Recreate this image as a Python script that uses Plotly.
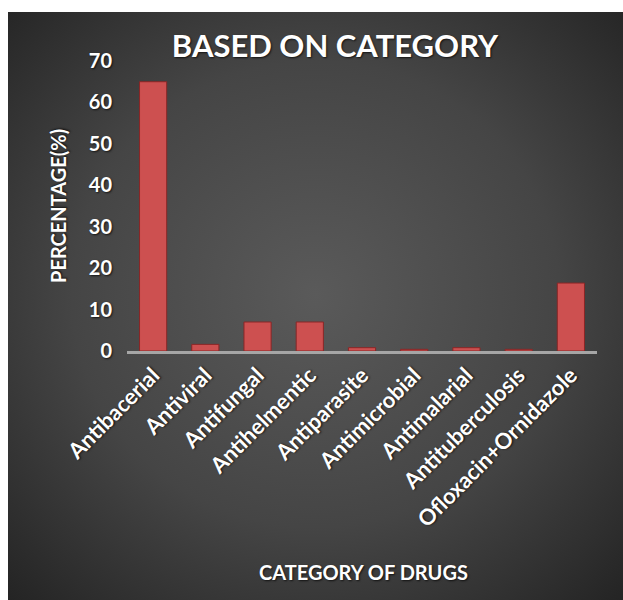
import plotly.graph_objects as go
import base64

categories = ["Antibacerial", "Antiviral", "Antifungal", "Antihelmentic", "Antiparasite",
              "Antimicrobial", "Antimalarial", "Antituberculosis", "Ofloxacin+Ornidazole"]
percentages = [65.0, 1.6, 7.0, 7.0, 0.8, 0.4, 0.8, 0.4, 16.4]
y_ticks = [0, 10, 20, 30, 40, 50, 60, 70]

FONT = "Lato"
shadow = "1px 1px 2px rgba(0,0,0,0.7)"

svg = ('<svg xmlns="http://www.w3.org/2000/svg" width="615" height="588" viewBox="0 0 615 588" preserveAspectRatio="none">'
       '<defs><radialGradient id="g" cx="50%" cy="48%" r="72%">'
       '<stop offset="0" stop-color="#5a5a5a"/><stop offset="0.55" stop-color="#454545"/>'
       '<stop offset="1" stop-color="#242424"/></radialGradient></defs>'
       '<rect width="615" height="588" fill="url(#g)"/></svg>')
src = "data:image/svg+xml;base64," + base64.b64encode(svg.encode()).decode()

L, R, T, B = 127, 26, 61, 249
W, H = 623, 600
pw, ph = W - L - R, H - T - B

def px_x(p):
    return (p - L) / pw

def px_y(p):
    return (H - B - p) / ph

fig = go.Figure()
fig.add_trace(go.Bar(
    x=categories, y=percentages, width=0.52,
    marker=dict(color="#cd5050", line=dict(color="#8a2626", width=1)),
))

fig.update_layout(
    width=W, height=H,
    margin=dict(l=L, r=R, t=T, b=B, pad=0),
    paper_bgcolor="white",
    plot_bgcolor="rgba(0,0,0,0)",
    showlegend=False,
    title=dict(text="<b>BASED ON CATEGORY</b>", x=335 / W, xanchor="center",
               y=1 - 46 / H, yanchor="middle",
               font=dict(family=FONT, size=31, color="white", shadow=shadow)),
    images=[dict(source=src, xref="paper", yref="paper",
                 x=px_x(8), y=px_y(12), sizex=px_x(623) - px_x(8), sizey=px_y(12) - px_y(600),
                 xanchor="left", yanchor="top", sizing="stretch", layer="below")],
    annotations=[
        dict(text="<b>CATEGORY OF DRUGS</b>", xref="paper", yref="paper",
             x=px_x(363), y=px_y(572), showarrow=False, xanchor="center", yanchor="middle",
             font=dict(family=FONT, size=20, color="white", shadow=shadow)),
        dict(text="<b>PERCENTAGE(%)</b>", xref="paper", yref="paper",
             x=px_x(58), y=px_y(206), showarrow=False, xanchor="center", yanchor="middle",
             textangle=-90,
             font=dict(family=FONT, size=20, color="white", shadow=shadow)),
    ],
)
fig.update_xaxes(
    showline=True, linecolor="#a6a6a6", linewidth=2.5, showgrid=False, ticks="",
    tickangle=-45, tickfont=dict(family=FONT, size=22, color="white", weight="bold", shadow=shadow),
    range=[-0.5, len(categories) - 0.5],
)
fig.update_yaxes(
    range=[0, 70], tickvals=y_ticks, showgrid=False, zeroline=False, showline=False,
    ticks="", ticklabelstandoff=14,
    tickfont=dict(family=FONT, size=20, color="white", weight="bold", shadow=shadow),
)

fig.write_html("out.html")
